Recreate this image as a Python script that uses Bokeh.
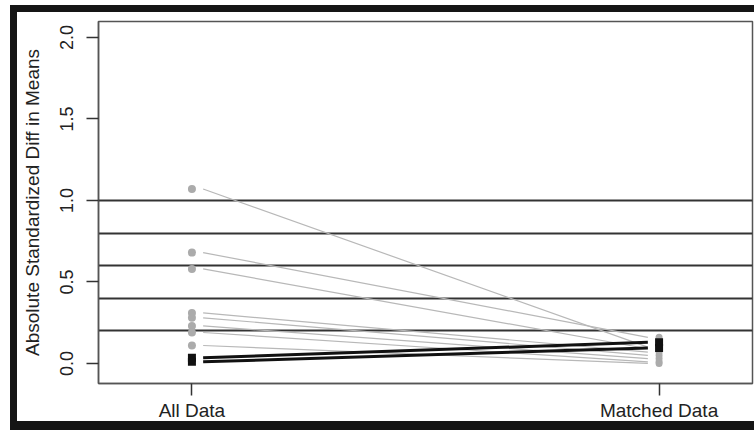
from bokeh.plotting import figure
from bokeh.models import FixedTicker, Range1d, ColumnDataSource
from bokeh.embed import file_html
from bokeh.resources import INLINE

# ---- data ----
categories = ["All Data", "Matched Data"]
cat_pos = [1, 2]
y_ticks = [0.0, 0.5, 1.0, 1.5, 2.0]
ref_levels = [0.2, 0.4, 0.6, 0.8, 1.0]
all_gray = [1.07, 0.68, 0.58, 0.31, 0.28, 0.23, 0.19, 0.11]
matched_gray = [0.10, 0.16, 0.09, 0.07, 0.05, 0.03, 0.01, 0.00]
all_black = [0.035, 0.01]
matched_black = [0.13, 0.095]

inset = 0.024
FONT = "Liberation Sans"

p = figure(width=744, height=425,
           x_range=Range1d(0.8, 2.2), y_range=Range1d(-0.123, 2.098),
           output_backend="svg", toolbar_location=None,
           min_border_left=81, min_border_right=9,
           min_border_top=9, min_border_bottom=54)
p.styles = {"margin-left": "10px", "margin-top": "5px",
            "border-left": "7px solid #151515",
            "border-top": "7px solid #151515",
            "border-bottom": "9px solid #151515"}

p.xgrid.visible = False
p.ygrid.visible = False
p.outline_line_color = "#555555"
p.outline_line_width = 1.5
p.background_fill_color = "white"
p.border_fill_color = "white"

# reference lines
p.hspan(y=ref_levels, line_color="#333333", line_width=1.8)

# gray connecting lines
gsrc = ColumnDataSource(dict(
    x0=[cat_pos[0] + inset] * len(all_gray), y0=all_gray,
    x1=[cat_pos[1] - inset] * len(matched_gray), y1=matched_gray))
p.segment(x0="x0", y0="y0", x1="x1", y1="y1", source=gsrc,
          line_color="#b8b8b8", line_width=1.2)

# black connecting lines
bsrc = ColumnDataSource(dict(
    x0=[cat_pos[0] + inset] * len(all_black), y0=all_black,
    x1=[cat_pos[1] - inset] * len(matched_black), y1=matched_black))
p.segment(x0="x0", y0="y0", x1="x1", y1="y1", source=bsrc,
          line_color="#111111", line_width=3)

# points
p.scatter([cat_pos[0]] * len(all_gray), all_gray, size=8,
          fill_color="#ababab", line_color=None)
p.scatter([cat_pos[1]] * len(matched_gray), matched_gray, size=7,
          fill_color="#ababab", line_color=None)
p.scatter([cat_pos[0]] * len(all_black), all_black, marker="square", size=8,
          fill_color="#111111", line_color=None)
p.scatter([cat_pos[1]] * len(matched_black), matched_black, marker="square", size=8,
          fill_color="#111111", line_color=None)

# axes
for ax in (p.xaxis, p.yaxis):
    ax.axis_line_color = "#555555"
    ax.axis_line_width = 1.5
    ax.major_tick_line_color = "#333333"
    ax.major_tick_line_width = 1.5
    ax.major_tick_in = 0
    ax.minor_tick_line_color = None
    ax.major_label_text_font = FONT
    ax.major_label_text_color = "#222222"

p.xaxis.major_tick_out = 12
p.yaxis.major_tick_out = 12

p.xaxis.ticker = FixedTicker(ticks=cat_pos)
p.xaxis.major_label_overrides = {pos: lab for pos, lab in zip(cat_pos, categories)}
p.xaxis.major_label_text_font_size = "19px"
p.xaxis.major_label_standoff = 4

p.yaxis.ticker = FixedTicker(ticks=y_ticks)
p.yaxis.major_label_overrides = {t: f"{t:.1f}" for t in y_ticks}
p.yaxis.major_label_orientation = "vertical"
p.yaxis.major_label_text_font_size = "18px"
p.yaxis.major_label_standoff = 13
p.yaxis.axis_label = "Absolute Standardized Diff in Means"
p.yaxis.axis_label_text_font = FONT
p.yaxis.axis_label_text_font_style = "normal"
p.yaxis.axis_label_text_font_size = "19px"
p.yaxis.axis_label_text_color = "#222222"
p.yaxis.axis_label_standoff = 15

open("out.html", "w").write(file_html(p, INLINE))
